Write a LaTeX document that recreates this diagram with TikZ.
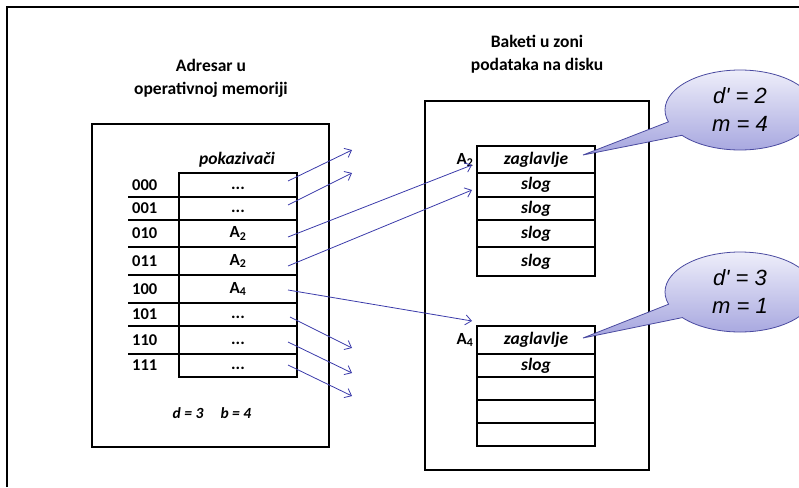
\documentclass[tikz,border=0pt]{standalone}
\usepackage{fontspec}
\setmainfont{Carlito}
\newfontfamily\arialf{Liberation Sans}
\usetikzlibrary{shapes.callouts,arrows.meta}
\definecolor{arrowblue}{HTML}{3B3BAA}
\definecolor{calloutedge}{HTML}{4A4AA0}
\definecolor{callouttop}{HTML}{EEEEFA}
\definecolor{calloutbot}{HTML}{A4A4DE}
\newcommand\ptrdots{\vphantom{A\textsubscript{2}}...}
\begin{document}
\begin{tikzpicture}[x=1pt,y=-1pt,
  frame/.style={line width=1.5pt, draw=black},
  bigbox/.style={draw=black, line width=1.5pt, minimum width=#1, anchor=north west, inner sep=0pt},
  tbl/.style={line width=1.6pt, draw=black},
  title/.style={font=\fontsize{17.5}{23}\selectfont\bfseries, align=center, inner sep=0pt},
  rowlbl/.style={font=\fontsize{16.5}{18}\selectfont\bfseries, anchor=west, inner sep=0pt},
  ptr/.style={font=\fontsize{17}{18}\selectfont\bfseries, inner sep=0pt},
  itl/.style={font=\fontsize{17.5}{18}\selectfont\bfseries\itshape, inner sep=0pt},
  dbl/.style={font=\fontsize{15.5}{18}\selectfont\bfseries\itshape, inner sep=0pt},
  ptrarrow/.style={draw=arrowblue, line width=0.8pt, -{Straight Barb[length=6pt,width=10pt,line width=0.8pt]}},
  bubble/.style={ellipse callout, draw=calloutedge, line width=0.8pt,
    top color=callouttop, bottom color=calloutbot,
    minimum width=150pt, minimum height=80pt, inner sep=0pt,
    callout pointer arc=22,
    align=center, font=\fontsize{22}{28}\selectfont\arialf\itshape},
]
\useasboundingbox (0,0) rectangle (799,487);
\clip (0,0) rectangle (799,487);

% outer frame (only top and left edges visible)
\draw[frame] (7,487) -- (7,7) -- (799,7);

% titles
\node[title] (t1) at (211,78) {Adresar u\\operativnoj memoriji};
\node[title] (t2) at (537,54) {Baketi u zoni\\podataka na disku};

% directory box
\node[bigbox=237pt, minimum height=323pt] (dir) at (91,123) {};
% buckets area box
\node[bigbox=224pt, minimum height=369pt] (disk) at (424,100) {};

% directory table
\draw[tbl] (179,173) rectangle (297,377);
\foreach \yy in {197,220,247,275,303,326,354}
  \draw[tbl] (128,\yy) -- (297,\yy);
\node[itl] (hdr) at (237,160) {pokaziva\v{c}i};
\node[dbl] (db) at (212,413) {d = 3\hspace{1.1em}b = 4};

\foreach \lbl/\val/\yy/\nm in {000/\ptrdots/185/0, 001/\ptrdots/208.5/1, 010/A\textsubscript{2}/233.5/2, 011/A\textsubscript{2}/261/3, 100/A\textsubscript{4}/289/4, 101/\ptrdots/314.5/5, 110/\ptrdots/340/6, 111/\ptrdots/365.5/7}{
  \node[rowlbl] (r\nm) at (132,\yy) {\lbl};
  \node[ptr] (p\nm) at (238,\yy) {\val};
}

% bucket 1
\draw[tbl] (477,146) rectangle (595,276);
\foreach \yy in {173,197,220,247}
  \draw[tbl] (477,\yy) -- (595,\yy);
\node[itl] (z1) at (536,160) {zaglavlje};
\node[itl] (s11) at (536,185) {slog};
\node[itl] (s12) at (536,209) {slog};
\node[itl] (s13) at (536,233.5) {slog};
\node[itl] (s14) at (536,262) {slog};
\node[ptr] (a2) at (465,160) {A\textsubscript{2}};

% bucket 2
\draw[tbl] (477,326) rectangle (595,446);
\foreach \yy in {354,377,400,423}
  \draw[tbl] (477,\yy) -- (595,\yy);
\node[itl] (z2) at (536,340) {zaglavlje};
\node[itl] (s21) at (536,366) {slog};
\node[ptr] (a4) at (465,340) {A\textsubscript{4}};

% pointer arrows
\coordinate (s0) at (288,181); \coordinate (e0) at (352,150);
\coordinate (s1) at (288,205); \coordinate (e1) at (352,173);
\coordinate (s2) at (288,237); \coordinate (e2) at (472,165);
\coordinate (s3) at (288,266); \coordinate (e3) at (472,190);
\coordinate (s4) at (288,290); \coordinate (e4) at (472,321);
\coordinate (s5) at (290,317); \coordinate (e5) at (352,348);
\coordinate (s6) at (288,342); \coordinate (e6) at (352,373);
\coordinate (s7) at (288,365); \coordinate (e7) at (352,396);
\foreach \i in {0,...,7}
  \draw[ptrarrow] (s\i) -- (e\i);

% callouts
\coordinate (tip1) at (583,155);
\coordinate (tip2) at (583,338);
\node[bubble, callout absolute pointer={(tip1)}] (c1) at (740,110) {d\textquotesingle{} = 2\\m = 4};
\node[bubble, callout absolute pointer={(tip2)}] (c2) at (740,292) {d\textquotesingle{} = 3\\m = 1};
\end{tikzpicture}
\end{document}
